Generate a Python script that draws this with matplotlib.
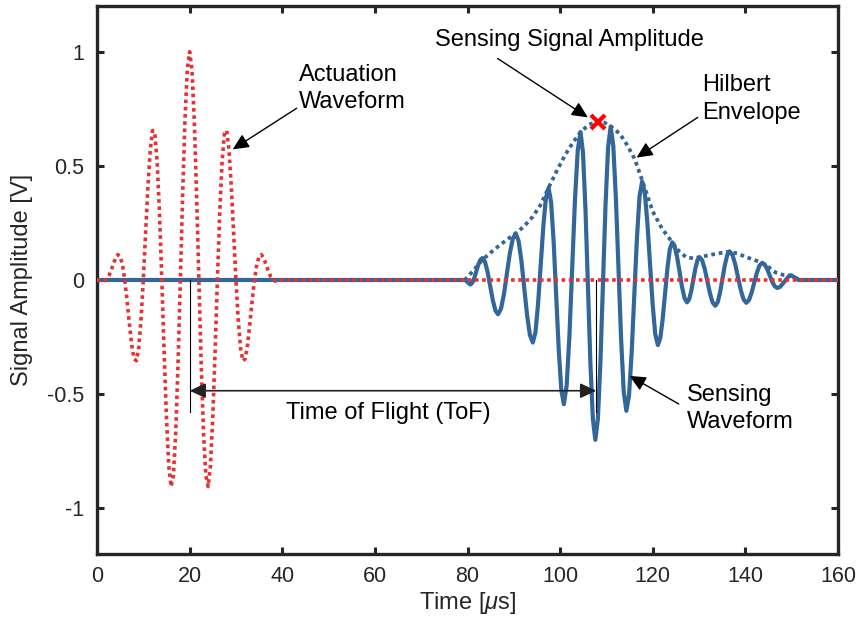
import numpy as np
import matplotlib
matplotlib.use('Agg')
import matplotlib.pyplot as plt
from matplotlib.ticker import FormatStrFormatter

plt.rcParams['font.family'] = ['Liberation Sans', 'DejaVu Sans']
plt.rcParams['axes.unicode_minus'] = False
plt.rcParams['mathtext.fontset'] = 'custom'
plt.rcParams['mathtext.it'] = 'Liberation Sans:italic'
plt.rcParams['mathtext.rm'] = 'Liberation Sans'

# actuation tone burst, sampled every 0.5 us from 0 to 40 us, then flat to 160
act_t = np.append(np.arange(0, 40.5, 0.5), 160)
act_v = [0, -0.001, -0.004, -0.005, 0,
         0.015, 0.039, 0.068, 0.095, 0.111, 0.104, 0.067, 0,
         -0.091, -0.193, -0.285, -0.345, -0.354, -0.298, -0.176, 0,
         0.207, 0.409, 0.570, 0.655, 0.639, 0.514, 0.292, 0,
         -0.316, -0.603, -0.813, -0.905, -0.856, -0.668, -0.368, 0,
         0.378, 0.703, 0.923, 1.0, 0.923, 0.703, 0.378,
         0, -0.368, -0.668, -0.856, -0.905, -0.813, -0.603, -0.316,
         0, 0.292, 0.514, 0.639, 0.655, 0.570, 0.409, 0.207,
         0, -0.176, -0.298, -0.354, -0.345, -0.285, -0.193, -0.091,
         0, 0.067, 0.104, 0.111, 0.095, 0.068, 0.039, 0.015,
         0, -0.005, -0.004, -0.001, 0,
         0]

# sensing waveform
sens_t = [0, 79.5, 80.05, 80.6,
          81.03, 81.47, 81.9, 82.33, 82.77, 83.2,
          83.77, 84.33, 84.9, 85.47, 86.03, 86.6,
          87.23, 87.87, 88.5, 89.13, 89.77, 90.4,
          91.02, 91.63, 92.25, 92.87, 93.48, 94.1,
          94.67, 95.23, 95.8, 96.37, 96.93, 97.5,
          98.05, 98.6, 99.15, 99.7, 100.25, 100.8,
          101.4, 102.0, 102.6, 103.2, 103.8, 104.4,
          104.93, 105.47, 106.0, 106.53, 107.07, 107.6,
          108.15, 108.7, 109.25, 109.8, 110.35, 110.9,
          111.47, 112.03, 112.6, 113.17, 113.73, 114.3,
          114.87, 115.43, 116.0, 116.57, 117.13, 117.7,
          118.27, 118.83, 119.4, 119.97, 120.53, 121.1,
          121.62, 122.13, 122.65, 123.17, 123.68, 124.2,
          124.73, 125.27, 125.8, 126.33, 126.87, 127.4,
          127.85, 128.3, 128.75, 129.2, 129.65, 130.1,
          130.67, 131.23, 131.8, 132.37, 132.93, 133.5,
          134.02, 134.53, 135.05, 135.57, 136.08, 136.6,
          137.2, 137.8, 138.4, 139.0, 139.6, 140.2,
          140.77, 141.33, 141.9, 142.47, 143.03, 143.6,
          144.15, 144.7, 145.25, 145.8, 146.35, 146.9,
          147.5, 148.4, 149.3, 149.9,
          150.7, 151.5, 160]
sens_v = [0, 0, -0.01, -0.02,
          -0.012, 0.009, 0.038, 0.067, 0.088, 0.096,
          0.080, 0.035, -0.027, -0.089, -0.134, -0.15,
          -0.126, -0.062, 0.027, 0.116, 0.180, 0.204,
          0.172, 0.085, -0.035, -0.155, -0.242, -0.274,
          -0.229, -0.105, 0.065, 0.235, 0.359, 0.404,
          0.340, 0.167, -0.070, -0.307, -0.481, -0.544,
          -0.464, -0.246, 0.052, 0.350, 0.568, 0.648,
          0.558, 0.311, -0.026, -0.363, -0.610, -0.70,
          -0.608, -0.357, -0.014, 0.329, 0.580, 0.672,
          0.589, 0.361, 0.050, -0.262, -0.490, -0.573,
          -0.506, -0.322, -0.071, 0.180, 0.364, 0.431,
          0.383, 0.252, 0.073, -0.106, -0.237, -0.285,
          -0.255, -0.173, -0.060, 0.053, 0.135, 0.165,
          0.147, 0.099, 0.034, -0.032, -0.080, -0.098,
          -0.085, -0.049, 0.001, 0.051, 0.087, 0.10,
          0.086, 0.047, -0.007, -0.060, -0.099, -0.113,
          -0.097, -0.054, 0.006, 0.066, 0.109, 0.125,
          0.110, 0.069, 0.013, -0.044, -0.085, -0.10,
          -0.088, -0.056, -0.013, 0.031, 0.063, 0.075,
          0.068, 0.048, 0.020, -0.008, -0.028, -0.035,
          -0.030, -0.008, 0.015, 0.02,
          0.01, 0, 0]

# hilbert envelope of the sensing signal
env_t = [0, 79.4, 81.2, 83.2, 85, 86.8, 88.6, 90.4, 92.2, 94, 95.8, 97.5,
         99.2, 101, 102.7, 104.4, 106.2, 108, 109.5, 111, 112.9, 114.5,
         116.1, 117.7, 120, 122, 124.2, 125.7, 127.2, 128.7, 130.1, 132,
         133.7, 135.2, 136.6, 138.4, 140.2, 141.9, 143.6, 145.1, 146.6,
         148.2, 149.9, 151.7, 160]
env_v = [0, 0, 0.04, 0.088, 0.12, 0.15, 0.178, 0.204, 0.235, 0.275, 0.33, 0.404,
         0.475, 0.545, 0.60, 0.648, 0.68, 0.695, 0.69, 0.672, 0.64, 0.59,
         0.53, 0.437, 0.30, 0.225, 0.165, 0.125, 0.10, 0.095, 0.10, 0.108,
         0.115, 0.12, 0.125, 0.115, 0.10, 0.088, 0.075, 0.055, 0.032,
         0.022, 0.02, 0, 0]

peak_t = 108.1
peak_v = 0.69
tof_start = 20
tof_end = 107.8

blue = '#336699'
red = '#E53232'
dark = '#262626'

fig = plt.figure(figsize=(8.59, 6.24), dpi=100)
ax = fig.add_axes([0.1129, 0.1122, 0.8627, 0.8782])

ax.plot(env_t, env_v, color=blue, lw=2.7, linestyle=(0, (1, 1)), zorder=2)
ax.plot(sens_t, sens_v, color=blue, lw=3, zorder=3)
ax.plot(act_t, act_v, color=red, lw=2.6, linestyle=(0, (1, 1)), zorder=4)
ax.plot(peak_t, peak_v, 'x', color='#FF0000', ms=10, mew=3, zorder=6)

# time of flight markers
ax.plot([tof_start, tof_start], [0, -0.58], color='k', lw=0.8, zorder=5)
ax.plot([tof_end, tof_end], [0, -0.58], color='k', lw=0.8, zorder=5)
ax.annotate('', xy=(tof_end, -0.485), xytext=(tof_start, -0.485),
            arrowprops=dict(arrowstyle='<|-|>,head_length=0.75,head_width=0.35',
                            color='#222222', lw=1.2, mutation_scale=13,
                            shrinkA=0, shrinkB=0), zorder=5)
ax.text(63.0, -0.535, 'Time of Flight (ToF)', fontsize=17, ha='center', va='top')

arrow = dict(arrowstyle='-|>,head_length=0.75,head_width=0.35', color='k',
             lw=1.0, mutation_scale=13, shrinkA=0, shrinkB=0)
ax.annotate('', xy=(29.3, 0.572), xytext=(43.1, 0.752), arrowprops=arrow)
ax.text(43.6, 0.945, 'Actuation\nWaveform', fontsize=17, ha='left', va='top',
        linespacing=1.3)
ax.annotate('', xy=(106.0, 0.712), xytext=(86.5, 0.97), arrowprops=arrow)
ax.text(72.9, 1.1, 'Sensing Signal Amplitude', fontsize=17, ha='left', va='top')
ax.annotate('', xy=(116.5, 0.536), xytext=(129.7, 0.712), arrowprops=arrow)
ax.text(130.6, 0.9, 'Hilbert\nEnvelope', fontsize=17, ha='left', va='top',
        linespacing=1.3)
ax.annotate('', xy=(115.0, -0.42), xytext=(125.6, -0.543), arrowprops=arrow)
ax.text(127.3, -0.455, 'Sensing\nWaveform', fontsize=17, ha='left', va='top',
        linespacing=1.3)

ax.set_xlim(0, 160)
ax.set_ylim(-1.2, 1.2)
ax.set_xticks(np.arange(0, 161, 20))
ax.set_yticks([-1, -0.5, 0, 0.5, 1])
ax.yaxis.set_major_formatter(FormatStrFormatter('%g'))
ax.tick_params(direction='in', length=5, width=2.2, top=True, right=True,
               labelsize=15.5, colors=dark, pad=9)
for s in ax.spines.values():
    s.set_linewidth(2.4)
    s.set_color(dark)

ax.set_xlabel(r'Time [$\mu$s]', fontsize=17, color=dark, labelpad=2)
ax.set_ylabel('Signal Amplitude [V]', fontsize=17, color=dark, labelpad=10)

fig.savefig('out.png', dpi=100)
